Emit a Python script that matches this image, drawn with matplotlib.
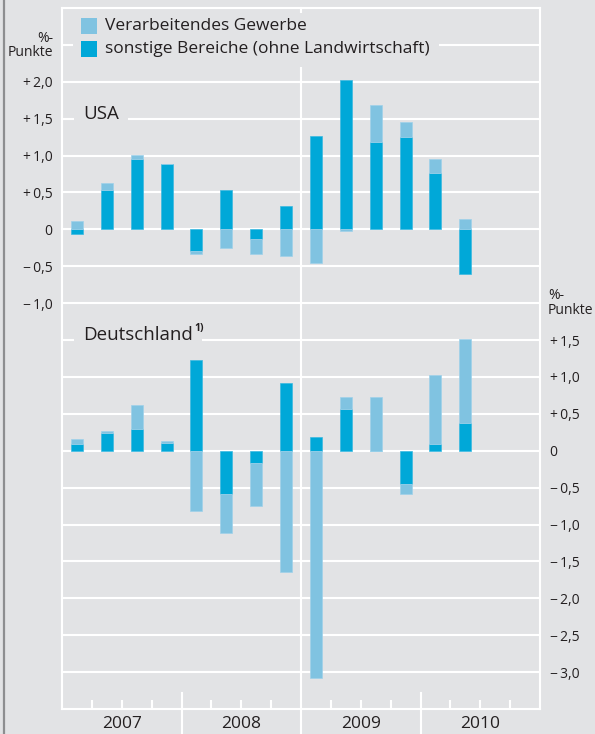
import numpy as np
import matplotlib.pyplot as plt
from matplotlib.patches import Rectangle
from matplotlib.lines import Line2D

plt.rcParams['font.family'] = ['Open Sans', 'DejaVu Sans']

# %%
# Beitraege zum Beschaeftigungswachstum, Prozentpunkte, Quartale 2007-2010
years = ['2007', '2008', '2009', '2010']
series_names = ['Verarbeitendes Gewerbe', 'sonstige Bereiche (ohne Landwirtschaft)']

usa_verarb = [0.12, 0.09, 0.06, 0.01, -0.05, -0.25, -0.20, -0.36,
              -0.45, -0.02, 0.51, 0.21, 0.19, 0.14]
usa_sonst = [-0.06, 0.54, 0.95, 0.88, -0.29, 0.53, -0.13, 0.32,
             1.27, 2.03, 1.18, 1.25, 0.76, -0.60]

de_verarb = [0.075, 0.03, 0.32, 0.02, -0.81, -0.54, -0.58, -1.64,
             -3.08, 0.16, 0.73, -0.14, 0.93, 1.14]
de_sonst = [0.085, 0.24, 0.30, 0.11, 1.23, -0.58, -0.17, 0.92,
            0.18, 0.57, 0.0, -0.45, 0.095, 0.38]

usa_ticks = [2.0, 1.5, 1.0, 0.5, 0.0, -0.5, -1.0]
de_ticks = [1.5, 1.0, 0.5, 0.0, -0.5, -1.0, -1.5, -2.0, -2.5, -3.0]
de_shift = -3.0   # Deutschland-Panel liegt 3 Punkte unter dem USA-Panel

BG = '#e2e3e5'
DARK = '#00a8d8'
LIGHT = '#80c3e1'
TXT = '#231f20'
W, H = 595, 734


def fmt(v):
    if v == 0:
        return '0'
    s = '{:.1f}'.format(abs(v)).replace('.', ',')
    return ('+\u2009' if v > 0 else '\u2212\u2009') + s


def fx(x):
    return x / W


def fy(y):
    return 1 - y / H


def stacked(ax, dark, light, offset):
    dark = np.array(dark)
    light = np.array(light)
    x = np.arange(len(dark)) + 0.5
    base = np.where(np.sign(light) == np.sign(dark), dark, 0.0)
    ax.bar(x, dark, 0.4, bottom=offset, color=DARK,
           edgecolor='#3cb9e0', linewidth=0.5, zorder=2)
    ax.bar(x, light, 0.4, bottom=offset + base, color=LIGHT,
           edgecolor='#9fd1ea', linewidth=0.5, zorder=2)


# %%
fig = plt.figure(figsize=(W / 100, H / 100), dpi=100, facecolor=BG)
ax = fig.add_axes([fx(62), 1 - 709 / H, fx(540) - fx(62), (709 - 8) / H])
ax.set_facecolor(BG)
ax.set_xlim(0, 16)
ax.set_ylim(-6.5, 3.0)

for s in ax.spines.values():
    s.set_color('white')
    s.set_linewidth(1.5)

for g in np.arange(-6.0, 2.75, 0.5):
    ax.axhline(g, color='white', lw=1.5, zorder=0.5)

stacked(ax, usa_sonst, usa_verarb, 0.0)
stacked(ax, de_sonst, de_verarb, de_shift)

# left axis: USA
ax.set_yticks(usa_ticks, [fmt(v) for v in usa_ticks])
ax.tick_params(axis='y', length=0, pad=7, labelsize=10, labelcolor=TXT)

# right axis: Deutschland
ax2 = ax.twinx()
ax2.set_ylim(ax.get_ylim())
ax2.set_yticks([v + de_shift for v in de_ticks], [fmt(v) for v in de_ticks])
ax2.tick_params(axis='y', length=0, pad=7, labelsize=10, labelcolor=TXT)
for s in ax2.spines.values():
    s.set_visible(False)

# x axis: quarters and years
ax.set_xticks([])
ax.set_xticks([q for q in range(1, 16) if q % 4], minor=True)
ax.tick_params(axis='x', which='minor', direction='in', length=6.5,
               width=1.5, color='white', labelbottom=False)
for i, yr in enumerate(years):
    ax.text(4 * i + 2, -0.022, yr, transform=ax.get_xaxis_transform(),
            ha='center', va='center', fontsize=12.5, color=TXT)
for q in (4, 12):
    ax.axvline(q, ymin=-0.036, ymax=0.023, color='white', lw=1.5,
               clip_on=False, zorder=1)
ax.axvline(8, ymin=-0.036, ymax=1, color='white', lw=1.5,
           clip_on=False, zorder=1)

# unit labels
fig.text(fx(53), fy(39), '%-', ha='right', va='center', fontsize=10, color=TXT)
fig.text(fx(53), fy(53), 'Punkte', ha='right', va='center', fontsize=10, color=TXT)
fig.text(fx(548), fy(296), '%-', ha='left', va='center', fontsize=10, color=TXT)
fig.text(fx(548), fy(311), 'Punkte', ha='left', va='center', fontsize=10, color=TXT)

# panel labels
lx = (83 - 62) / (478 / 16)
ax.text(lx, 1.5, 'USA', ha='left', va='baseline', fontsize=13.5, color=TXT,
        zorder=4, bbox=dict(boxstyle='square,pad=0.5', fc=BG, ec='none'))
t_de = ax.text(lx, 1.5 + de_shift, 'Deutschland', ha='left', va='baseline',
               fontsize=13.5, color=TXT, zorder=4,
               bbox=dict(boxstyle='square,pad=0.5', fc=BG, ec='none'))
fig.canvas.draw()
bb = t_de.get_window_extent()
fig.text((bb.x1 + 2) / W, fy(329), '1)', fontsize=7.5, fontweight='bold',
         color=TXT, ha='left', va='center', zorder=5)

# legend
fig.add_artist(Rectangle((fx(73), fy(67)), fx(439) - fx(73), fy(13) - fy(67),
                         transform=fig.transFigure, fc=BG, ec='none', zorder=3))
for (y0, col, name) in [(18, LIGHT, series_names[0]), (41, DARK, series_names[1])]:
    fig.add_artist(Rectangle((fx(81), fy(y0 + 16)), fx(16), 16 / H,
                             transform=fig.transFigure, fc=col, ec='none', zorder=4))
    fig.text(fx(105), fy(y0 + 8), name, ha='left', va='center',
             fontsize=12.5, color=TXT, zorder=5)

# left page border
fig.add_artist(Line2D([fx(4), fx(4)], [0, 1], transform=fig.transFigure,
                      color='#8d8e90', lw=1.6))

fig.savefig('out.png', dpi=100, facecolor=BG)
